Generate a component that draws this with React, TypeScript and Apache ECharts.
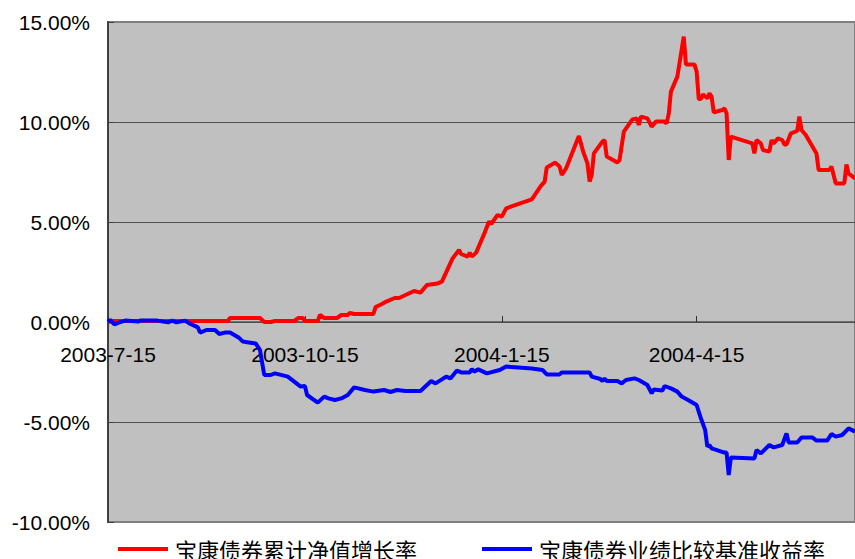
import React, { useEffect, useRef } from "react";
import * as echarts from "echarts";

// x values are days since 2003-7-15
const tickDays = [0, 92, 184, 275];
const tickLabels = ["2003-7-15", "2003-10-15", "2004-1-15", "2004-4-15"];

const seriesNames = ["宝康债券累计净值增长率", "宝康债券业绩比较基准收益率"];

const navDays = [0, 2, 56, 57, 71, 73, 76, 78, 87, 89, 91, 92, 98, 99, 101, 107, 109, 112, 113, 115, 124, 125, 128, 130, 134, 136, 139, 143, 146, 149, 154, 156, 161, 164, 165, 168, 169, 170, 172, 176, 178, 179, 182, 184, 186, 198, 202, 204, 205, 209, 211, 212, 214, 220, 222, 224, 225, 226, 227, 231, 232, 233, 238, 239, 241, 245, 247, 248, 249, 252, 254, 256, 260, 261, 262, 263, 266, 269, 270, 274, 275, 276, 277, 278, 280, 281, 282, 283, 287, 288, 289, 290, 291, 301, 302, 303, 305, 306, 309, 310, 311, 313, 315, 316, 317, 319, 322, 323, 324, 326, 331, 332, 337, 338, 340, 344, 345, 346, 349];
const navValues = [0.0, 0.05, 0.05, 0.2, 0.2, 0.0, 0.0, 0.05, 0.05, 0.2, 0.2, 0.05, 0.05, 0.35, 0.2, 0.2, 0.35, 0.35, 0.45, 0.4, 0.4, 0.75, 0.9, 1.02, 1.2, 1.2, 1.35, 1.55, 1.47, 1.85, 1.93, 2.02, 3.18, 3.6, 3.4, 3.27, 3.47, 3.27, 3.47, 4.47, 5.02, 4.9, 5.35, 5.27, 5.68, 6.13, 6.77, 7.02, 7.73, 7.97, 7.77, 7.35, 7.68, 9.3, 8.52, 7.93, 7.02, 7.35, 8.43, 9.02, 9.1, 8.27, 7.97, 8.1, 9.52, 10.13, 10.18, 9.85, 10.27, 10.18, 9.77, 10.02, 10.02, 9.93, 10.43, 11.52, 12.27, 14.27, 12.88, 12.88, 12.52, 11.15, 11.15, 11.38, 11.18, 11.43, 11.27, 10.48, 10.6, 10.68, 10.43, 8.1, 9.27, 8.93, 8.43, 9.1, 8.93, 8.6, 8.52, 9.1, 8.93, 9.18, 9.1, 8.88, 8.88, 9.43, 9.55, 10.27, 9.6, 9.35, 8.43, 7.6, 7.6, 7.77, 6.93, 6.93, 7.88, 7.43, 7.18];

const benchDays = [0, 1, 3, 5, 8, 14, 15, 23, 28, 30, 32, 36, 38, 42, 43, 46, 50, 52, 55, 57, 61, 63, 65, 69, 71, 73, 76, 78, 84, 87, 90, 92, 93, 98, 101, 103, 106, 109, 112, 115, 120, 124, 129, 132, 135, 139, 146, 151, 153, 156, 158, 160, 163, 165, 169, 170, 171, 173, 177, 183, 186, 198, 203, 205, 211, 212, 225, 226, 230, 231, 232, 233, 238, 240, 242, 246, 248, 252, 254, 255, 259, 260, 263, 266, 268, 271, 275, 277, 279, 280, 281, 282, 288, 289, 290, 291, 302, 303, 305, 309, 311, 315, 317, 318, 322, 324, 329, 331, 336, 338, 340, 343, 346, 349];
const benchValues = [0, 0.1, -0.12, -0.03, 0.07, 0.02, 0.07, 0.07, -0.02, 0.07, -0.02, 0.07, -0.07, -0.27, -0.53, -0.4, -0.4, -0.6, -0.52, -0.52, -0.77, -0.98, -1.01, -1.07, -1.4, -2.65, -2.65, -2.57, -2.73, -2.98, -3.23, -3.2, -3.65, -4.03, -3.73, -3.82, -3.9, -3.82, -3.65, -3.27, -3.4, -3.48, -3.4, -3.5, -3.4, -3.45, -3.45, -2.95, -3.07, -2.87, -2.73, -2.82, -2.43, -2.52, -2.52, -2.35, -2.48, -2.37, -2.57, -2.4, -2.23, -2.32, -2.4, -2.62, -2.62, -2.52, -2.52, -2.73, -2.85, -2.95, -2.82, -2.95, -2.95, -3.07, -2.9, -2.82, -2.9, -3.15, -3.57, -3.37, -3.43, -3.2, -3.32, -3.48, -3.73, -3.9, -4.15, -4.82, -5.4, -6.23, -6.15, -6.32, -6.53, -6.53, -7.65, -6.77, -6.83, -6.4, -6.57, -6.15, -6.27, -6.15, -5.57, -6.03, -6.03, -5.77, -5.77, -5.93, -5.93, -5.6, -5.73, -5.65, -5.32, -5.48];

const FONT = "'Liberation Sans', Arial, 'Noto Sans CJK SC', sans-serif";

export default function App() {
  const ref = useRef<HTMLDivElement>(null);
  useEffect(() => {
    if (!ref.current) return;
    const chart = echarts.init(ref.current, undefined, { renderer: "svg" });
    const navData = navDays.map((d, i) => [d, navValues[i]]);
    const benchData = benchDays.map((d, i) => [d, benchValues[i]]);
    chart.setOption({
      animation: false,
      textStyle: { fontFamily: FONT },
      grid: {
        left: 108,
        top: 22,
        right: -1,
        bottom: 37,
        show: true,
        backgroundColor: "#C0C0C0",
        borderColor: "#808080",
        borderWidth: 2,
      },
      legend: {
        left: 118,
        top: 538,
        padding: 0,
        itemWidth: 50,
        itemHeight: 4,
        itemGap: 65,
        icon: "rect",
        textStyle: { fontSize: 22, color: "#000", fontFamily: "'Noto Sans CJK SC', sans-serif", padding: [0, 0, 0, 2] },
        data: seriesNames,
      },
      xAxis: {
        type: "value",
        min: 0,
        max: 349,
        position: "bottom",
        offset: -200,
        axisLine: { onZero: false, lineStyle: { color: "#505050", width: 1.5 } },
        axisTick: { show: true, inside: true, length: 6, customValues: tickDays, lineStyle: { color: "#303030" } },
        axisLabel: {
          customValues: tickDays,
          margin: 22,
          fontSize: 21,
          color: "#000",
          fontFamily: FONT,
          formatter: (v: number) => {
            const i = tickDays.indexOf(Math.round(v));
            return i >= 0 ? tickLabels[i] : "";
          },
        },
        splitLine: { show: false },
      },
      yAxis: {
        type: "value",
        min: -10,
        max: 15,
        interval: 5,
        axisLine: { show: true, onZero: false, lineStyle: { color: "#404040", width: 2 } },
        axisTick: { show: true, inside: true, length: 6, lineStyle: { color: "#404040" } },
        axisLabel: {
          margin: 18,
          fontSize: 21,
          color: "#000",
          fontFamily: FONT,
          formatter: (v: number) => v.toFixed(2) + "%",
        },
        splitLine: {
          show: true,
          lineStyle: { color: ["#808080", "#505050", "#505050", "#505050", "#505050", "#808080"], width: 1.2 },
        },
      },
      series: [
        {
          name: seriesNames[0],
          type: "line",
          data: navData,
          showSymbol: false,
          color: "#FF0000",
          lineStyle: { color: "#FF0000", width: 4 },
        },
        {
          name: seriesNames[1],
          type: "line",
          data: benchData,
          showSymbol: false,
          color: "#0000FF",
          lineStyle: { color: "#0000FF", width: 4 },
        },
      ],
    });
    return () => chart.dispose();
  }, []);
  return (
    <div
      ref={ref}
      style={{ position: "fixed", left: 0, top: 0, width: 855, height: 559, background: "#fff" }}
    />
  );
}
